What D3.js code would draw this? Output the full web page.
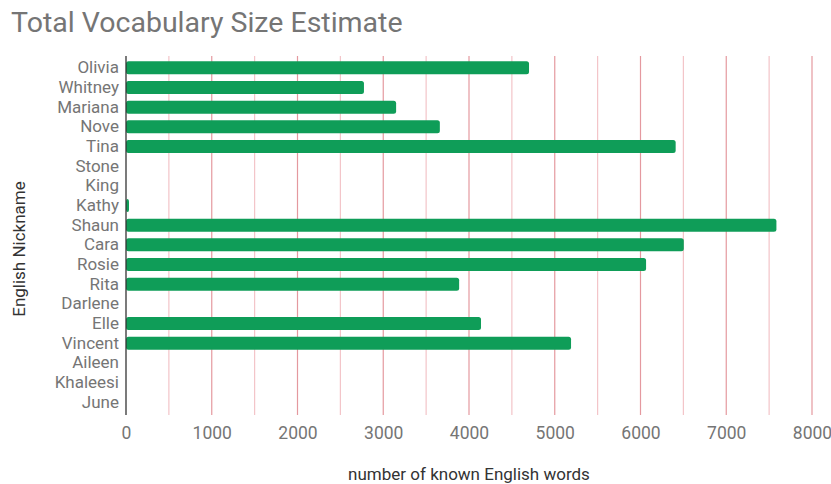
<!DOCTYPE html>
<html lang="en">
  <head>
    <meta charset="UTF-8" />
    <title>Total Vocabulary Size Estimate</title>
    <script src="https://cdn.jsdelivr.net/npm/d3@7/dist/d3.min.js"></script>
    <style>
      body { margin: 0; background: #fff; }
      svg { font-family: Roboto, 'Noto Sans', sans-serif; }
    </style>
  </head>
  <body>
    <svg class="svg" width="831" height="484"></svg>
    <script>
      // data
      const names = ['Olivia', 'Whitney', 'Mariana', 'Nove', 'Tina', 'Stone', 'King', 'Kathy', 'Shaun',
        'Cara', 'Rosie', 'Rita', 'Darlene', 'Elle', 'Vincent', 'Aileen', 'Khaleesi', 'June'];
      const words = [4700, 2775, 3150, 3660, 6410, 0, 0, 30, 7585,
        6505, 6065, 3885, 0, 4140, 5190, 0, 0, 0];
      const xTicks = [0, 1000, 2000, 3000, 4000, 5000, 6000, 7000, 8000];
      const minorTicks = [500, 1500, 2500, 3500, 4500, 5500, 6500, 7500];

      const svg = d3.select('.svg');
      const plotLeft = 126, plotRight = 812, plotTop = 58, plotBottom = 412;
      const grey = '#757575';

      const x = d3.scaleLinear().domain([0, 8000]).range([plotLeft, plotRight]);
      const y = d3.scaleBand().domain(names).range([plotTop, plotBottom]).paddingInner(0.34).paddingOuter(0.17);

      // title
      svg.append('text')
        .attr('x', 11).attr('y', 32)
        .attr('font-size', 28.5).attr('fill', grey)
        .text('Total Vocabulary Size Estimate');

      // gridlines
      svg.append('g').selectAll('line')
        .data(minorTicks).enter().append('line')
        .attr('x1', d => x(d)).attr('x2', d => x(d))
        .attr('y1', plotTop - 2).attr('y2', plotBottom + 3)
        .attr('stroke', '#f3c4c8').attr('stroke-width', 1.2);
      svg.append('g').selectAll('line')
        .data(xTicks.slice(1)).enter().append('line')
        .attr('x1', d => x(d)).attr('x2', d => x(d))
        .attr('y1', plotTop - 2).attr('y2', plotBottom + 3)
        .attr('stroke', '#e4999f').attr('stroke-width', 1.2);

      // bars
      svg.append('g').selectAll('rect')
        .data(words).enter().append('rect')
        .attr('x', x(0))
        .attr('y', (d, i) => y(names[i]))
        .attr('height', y.bandwidth())
        .attr('width', d => d > 0 ? Math.max(x(d) - x(0), 3) : 0)
        .attr('rx', 2.5)
        .attr('fill', '#0f9d58');

      // axes
      const yAxis = d3.axisLeft(y).tickSize(0).tickPadding(7);
      const gy = svg.append('g').attr('transform', `translate(${plotLeft},0)`).call(yAxis);
      gy.select('.domain').remove();
      gy.selectAll('text').attr('font-size', 17).attr('fill', grey).attr('font-family', 'Roboto');

      svg.append('line')
        .attr('x1', plotLeft).attr('x2', plotLeft)
        .attr('y1', plotTop - 2).attr('y2', plotBottom + 3)
        .attr('stroke', '#333').attr('stroke-width', 1.3);

      const xAxis = d3.axisBottom(x).tickValues(xTicks).tickSize(0).tickPadding(12).tickFormat(d3.format('d'));
      const gx = svg.append('g').attr('transform', `translate(0,${plotBottom + 3})`).call(xAxis);
      gx.select('.domain').remove();
      gx.selectAll('text').attr('font-size', 17.5).attr('fill', grey).attr('font-family', 'Roboto');

      // axis titles
      svg.append('text')
        .attr('x', 469).attr('y', 480)
        .attr('text-anchor', 'middle')
        .attr('font-size', 17).attr('fill', '#333')
        .text('number of known English words');
      svg.append('text')
        .attr('transform', 'translate(25,249) rotate(-90)')
        .attr('text-anchor', 'middle')
        .attr('font-size', 17).attr('fill', '#333')
        .text('English Nickname');
    </script>
  </body>
</html>
